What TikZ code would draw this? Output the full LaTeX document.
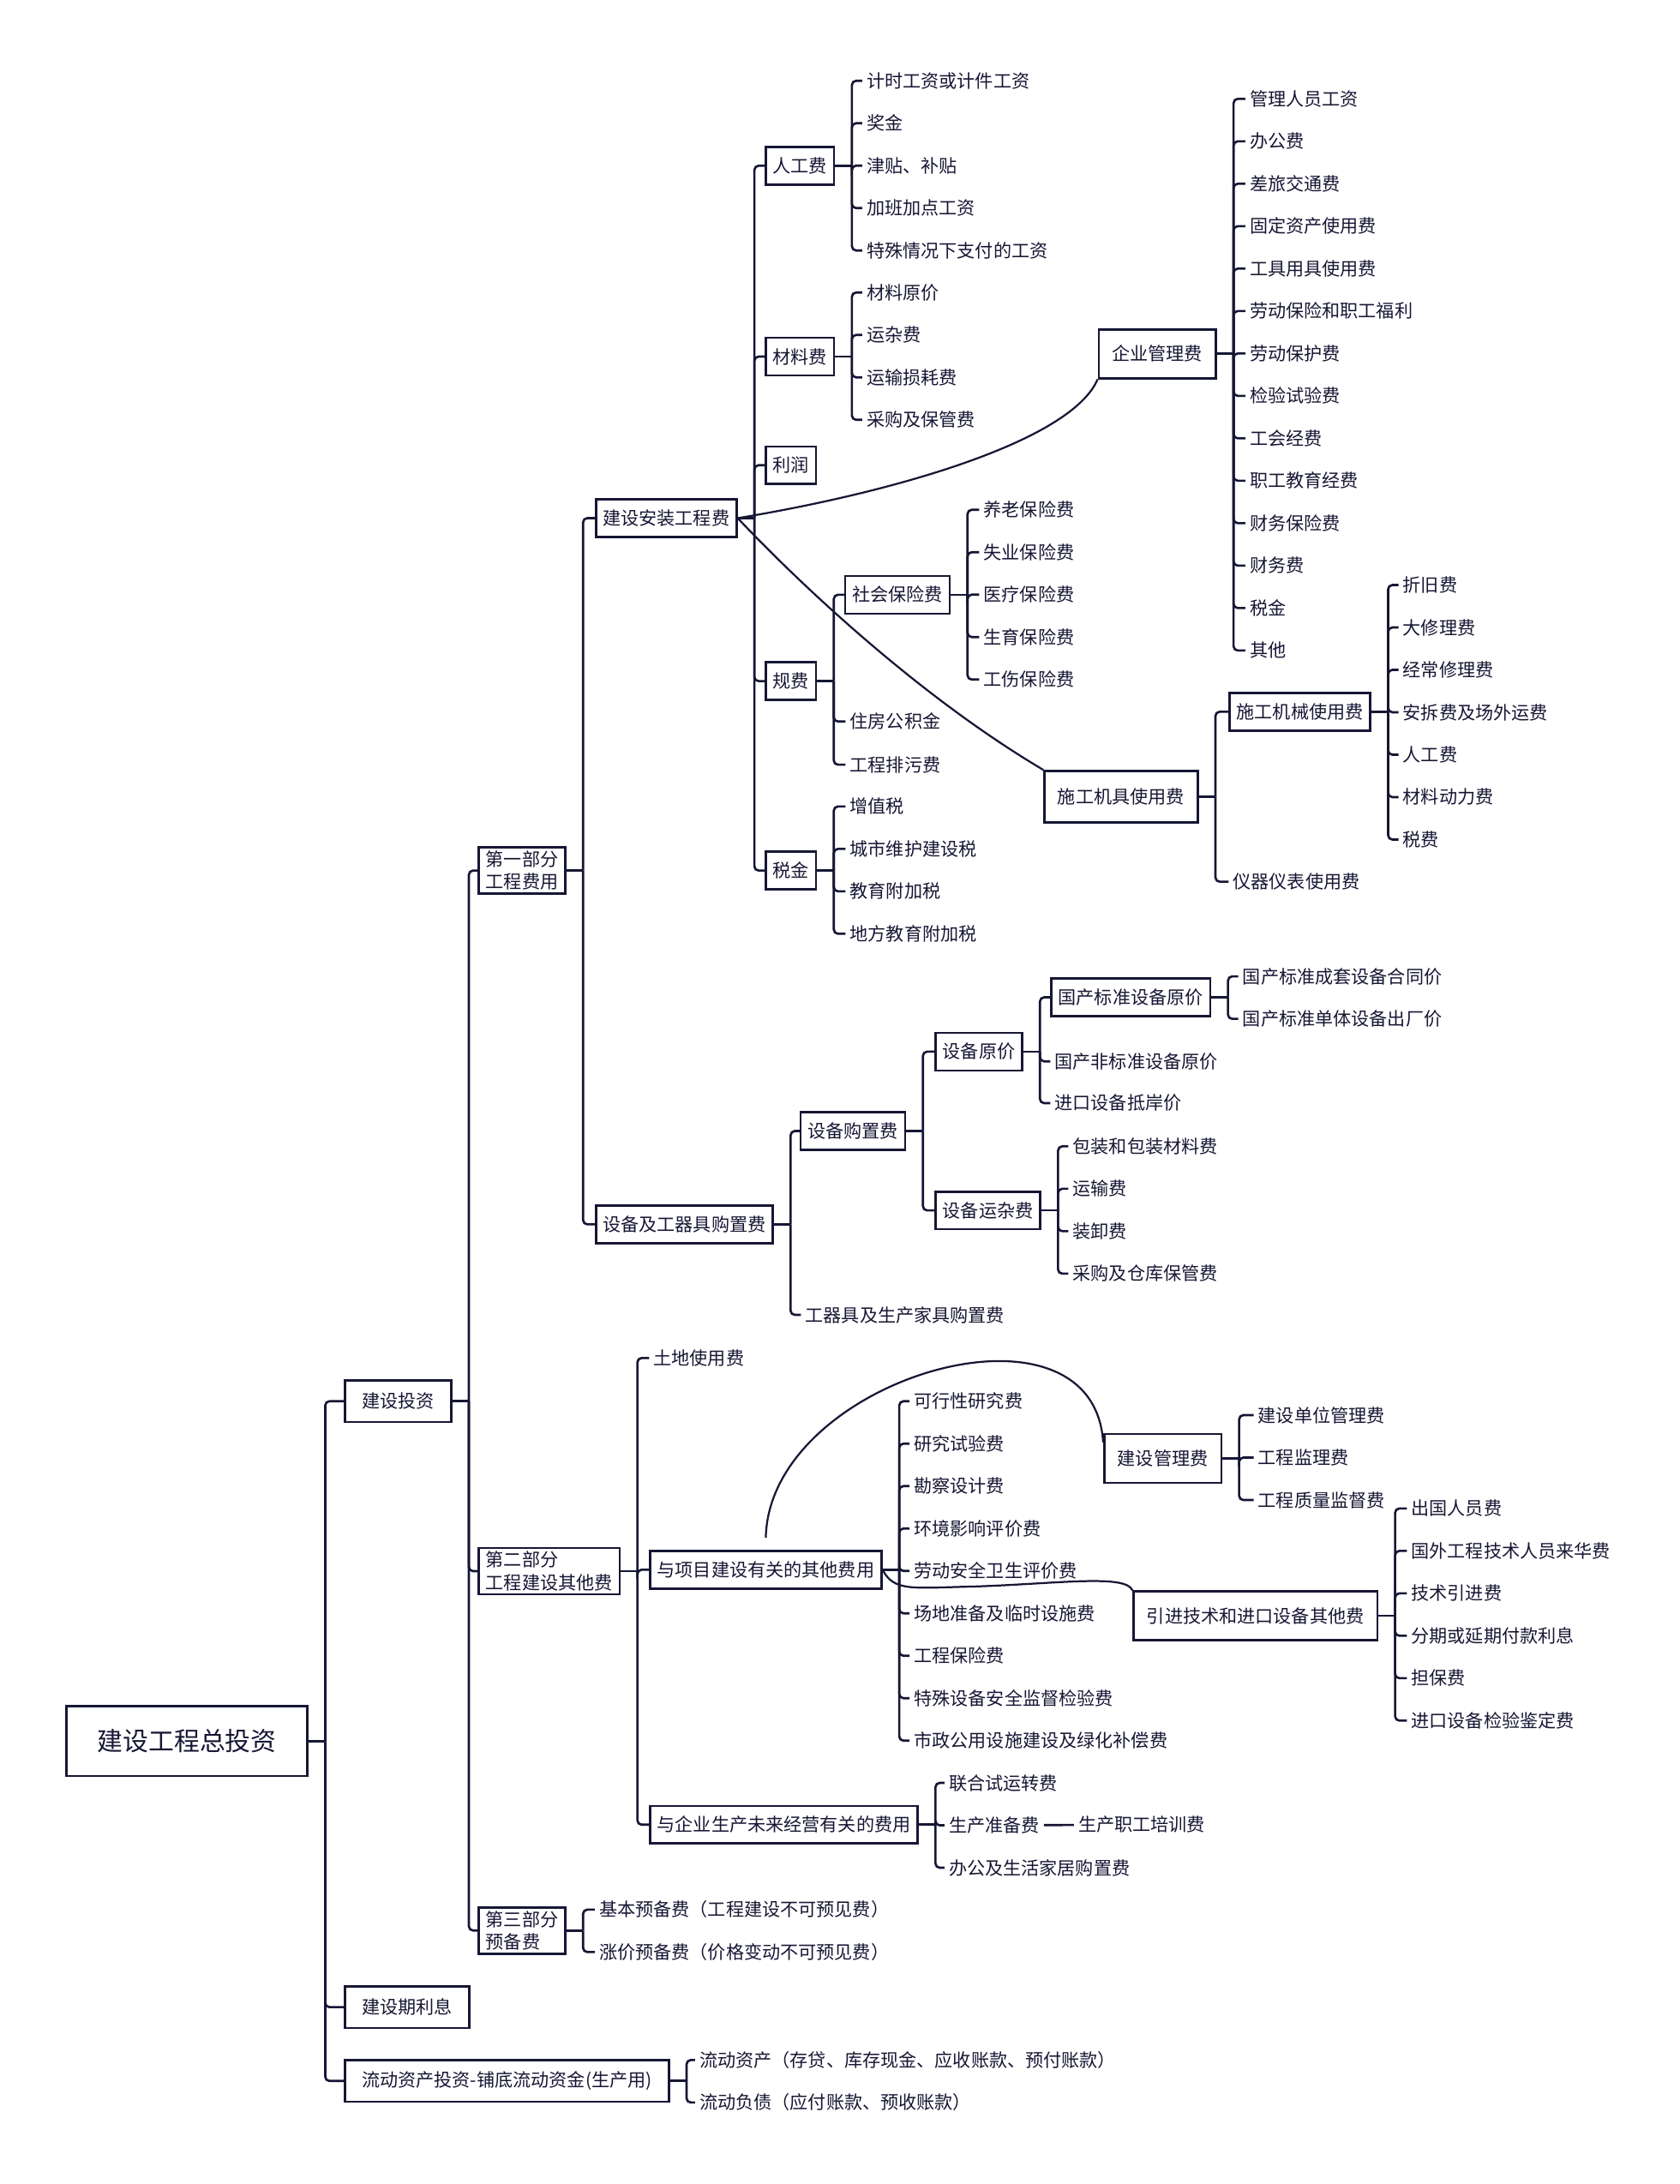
\documentclass[tikz,border=0pt]{standalone}
\usepackage{fontspec}
\setmainfont{Noto Sans CJK SC}
\usetikzlibrary{positioning}
\definecolor{inkblue}{RGB}{22,22,52}

% bracket from a parent to its children
\newcommand\tie[2]{%
  \draw[link] (#1.east) -- ++(12,0);
  \foreach \c in {#2} \draw[link] (#1.east) ++(12,0) |- (\c.west);
}
% a column of plain items under a parent
\newcommand\leaflist[5]{%
  \foreach \t [count=\i] in {#5} \node[leaf] (#2\i) at (#3,{#4+30.46*(\i-1)}) {\t};
  \draw[link] (#1.east) -- ++(12,0);
  \foreach \t [count=\i] in {#5} \draw[link] (#1.east) ++(12,0) |- (#2\i.west);
}

\begin{document}
\begin{tikzpicture}[x=0.8pt,y=-0.8pt,
  every node/.style={text=inkblue},
  box/.style={draw=inkblue, line width=1.3pt, anchor=west, inner xsep=4pt, inner ysep=2pt, minimum height=21.6pt, font=\fontsize{10.4}{13}\selectfont, align=left},
  bigbox/.style={box, inner xsep=7.6pt, minimum height=28pt},
  topbox/.style={box, inner xsep=9.6pt, minimum height=24pt},
  leaf/.style={anchor=west, inner xsep=2.4pt, inner ysep=1pt, font=\fontsize{10.4}{12.5}\selectfont},
  link/.style={draw=inkblue, line width=1.3pt, rounded corners=2.4pt},
  curvelink/.style={draw=inkblue, line width=1.1pt}
]
  \useasboundingbox (0,0) rectangle (1206,1568);

  \node[box, font=\fontsize{14.7}{17}\selectfont, inner xsep=17.7pt, minimum height=40pt] (total) at (47,1250) {建设工程总投资};

  \node[topbox] (invest) at (247,1006) {建设投资};
  \node[topbox] (interest) at (247,1441) {建设期利息};
  \node[topbox] (working) at (247,1494) {流动资产投资-铺底流动资金(生产用)};
  \tie{total}{invest,interest,working}

  \node[box] (partA) at (343,625) {第一部分\\工程费用};
  \node[box] (partB) at (343,1128) {第二部分\\工程建设其他费};
  \node[box] (partC) at (343,1386) {第三部分\\预备费};
  \tie{invest}{partA,partB,partC}

  % part one
  \node[box] (install) at (427,372) {建设安装工程费};
  \node[box] (equip) at (427,879) {设备及工器具购置费};
  \tie{partA}{install,equip}

  \node[box] (labor) at (549,119) {人工费};
  \node[box] (material) at (549,256) {材料费};
  \node[box] (profit) at (549,334) {利润};
  \node[box] (fees) at (549,489) {规费};
  \node[box] (tax) at (549,625) {税金};
  \tie{install}{labor,material,profit,fees,tax}

  \leaflist{labor}{lab}{619}{58}{计时工资或计件工资,奖金,津贴、补贴,加班加点工资,特殊情况下支付的工资}
  \leaflist{material}{mat}{619}{210}{材料原价,运杂费,运输损耗费,采购及保管费}

  \node[box] (social) at (606,427) {社会保险费};
  \node[leaf] (fund) at (607,518) {住房公积金};
  \node[leaf] (sewage) at (607,549) {工程排污费};
  \tie{fees}{social,fund,sewage}
  \leaflist{social}{soc}{703}{366}{养老保险费,失业保险费,医疗保险费,生育保险费,工伤保险费}
  \leaflist{tax}{tx}{607}{579}{增值税,城市维护建设税,教育附加税,地方教育附加税}

  \node[bigbox] (mgmt) at (788,254) {企业管理费};
  \leaflist{mgmt}{mg}{894}{71}{管理人员工资,办公费,差旅交通费,固定资产使用费,工具用具使用费,劳动保险和职工福利,劳动保护费,检验试验费,工会经费,职工教育经费,财务保险费,财务费,税金,其他}

  \node[bigbox, minimum height=29.6pt] (machine) at (749,572) {施工机具使用费};
  \node[box] (mech) at (882,511) {施工机械使用费};
  \node[leaf] (meter) at (882,633) {仪器仪表使用费};
  \tie{machine}{mech,meter}
  \leaflist{mech}{mc}{1004}{420}{折旧费,大修理费,经常修理费,安拆费及场外运费,人工费,材料动力费,税费}

  \draw[curvelink] (install.east) .. controls (650,352) and (770,315) .. (mgmt.south west);
  \draw[curvelink] (install.east) .. controls (575,420) and (660,500) .. (machine.north west);

  \node[box] (purchase) at (574,812) {设备购置费};
  \node[leaf] (tools) at (575,944) {工器具及生产家具购置费};
  \tie{equip}{purchase,tools}

  \node[box] (origin) at (671,755) {设备原价};
  \node[box] (freight) at (671,869) {设备运杂费};
  \tie{purchase}{origin,freight}

  \node[box] (stdorig) at (754,716) {国产标准设备原价};
  \node[leaf] (nonstd) at (754,762) {国产非标准设备原价};
  \node[leaf] (landed) at (754,792) {进口设备抵岸价};
  \tie{origin}{stdorig,nonstd,landed}
  \leaflist{stdorig}{so}{889}{701}{国产标准成套设备合同价,国产标准单体设备出厂价}
  \leaflist{freight}{fr}{767}{823}{包装和包装材料费,运输费,装卸费,采购及仓库保管费}

  % part two
  \node[leaf] (land) at (466,975) {土地使用费};
  \node[box] (projother) at (466,1127) {与项目建设有关的其他费用};
  \node[box] (futureop) at (466,1310) {与企业生产未来经营有关的费用};
  \tie{partB}{land,projother,futureop}

  \leaflist{projother}{po}{653}{1006}{可行性研究费,研究试验费,勘察设计费,环境影响评价费,劳动安全卫生评价费,场地准备及临时设施费,工程保险费,特殊设备安全监督检验费,市政公用设施建设及绿化补偿费}

  \node[bigbox] (buildmgmt) at (792,1047) {建设管理费};
  \leaflist{buildmgmt}{bm}{900}{1016}{建设单位管理费,工程监理费,工程质量监督费}

  \node[bigbox] (importfee) at (813,1160) {引进技术和进口设备其他费};
  \leaflist{importfee}{im}{1010}{1083}{出国人员费,国外工程技术人员来华费,技术引进费,分期或延期付款利息,担保费,进口设备检验鉴定费}

  \draw[curvelink] ([yshift=7pt]projother.north) .. controls (552,990) and (785,922) .. (buildmgmt.165);
  \draw[curvelink] (projother.east) .. controls (642,1143) and (655,1140) .. (700,1139) .. controls (760,1137) and (808,1130) .. (importfee.north west);

  \leaflist{futureop}{fo}{678}{1280}{联合试运转费,生产准备费,办公及生活家居购置费}
  \node[leaf] (training) at (771,1310) {生产职工培训费};
  \draw[link] (fo2) -- (training);

  % part three and working capital
  \leaflist{partC}{pc}{427}{1371}{基本预备费（工程建设不可预见费）,涨价预备费（价格变动不可预见费）}
  \leaflist{working}{wk}{499}{1479}{流动资产（存贷、库存现金、应收账款、预付账款）,流动负债（应付账款、预收账款）}
\end{tikzpicture}
\end{document}
